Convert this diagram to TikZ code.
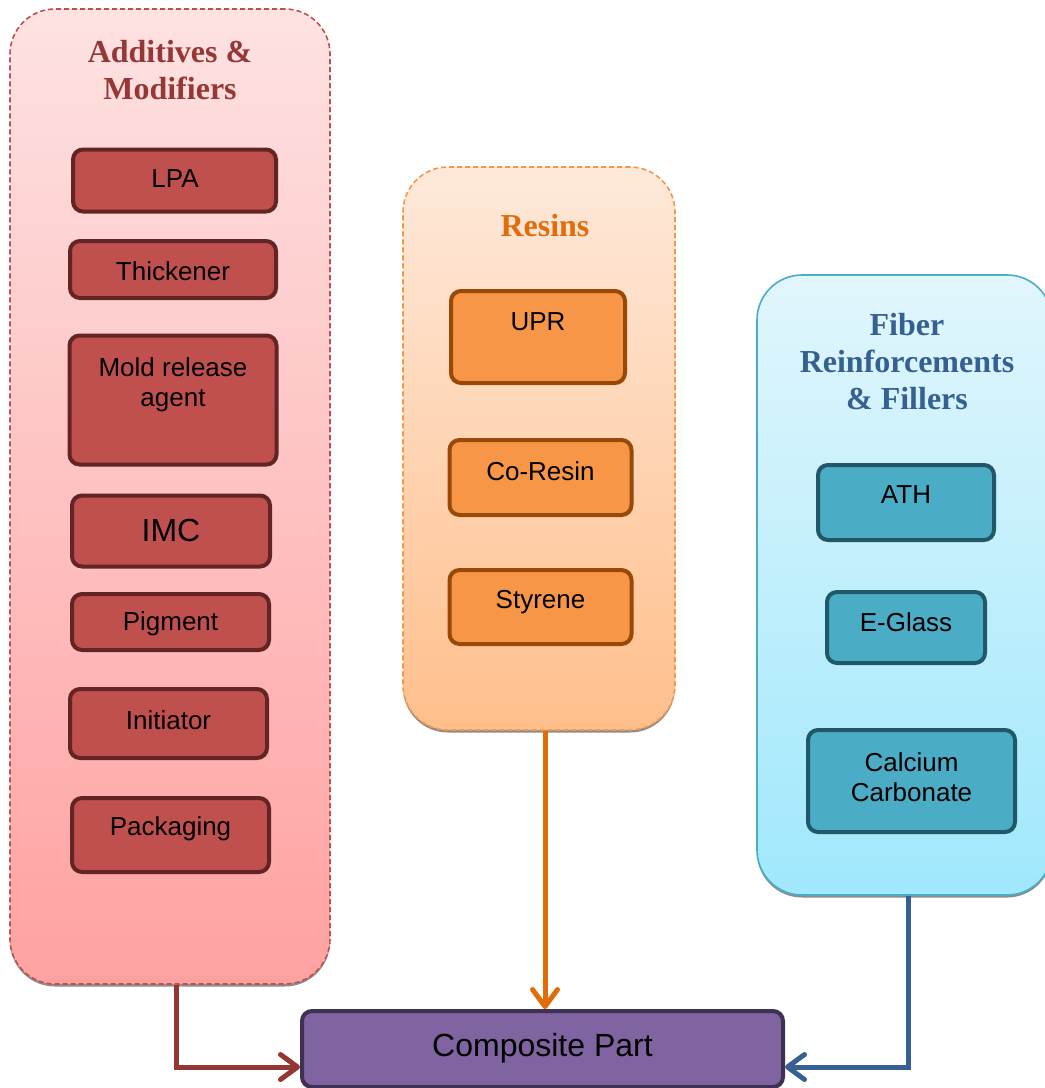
\documentclass[tikz,border=0pt]{standalone}
\usepackage{fontspec}
\setmainfont{Liberation Sans}
\newfontfamily\titlefont{Liberation Serif}
\usetikzlibrary{arrows.meta}

% palette
\definecolor{addFill}{HTML}{C0504D}
\definecolor{addEdge}{HTML}{632523}
\definecolor{addTitle}{HTML}{953735}
\definecolor{addTop}{HTML}{FEE2E2}
\definecolor{addBot}{HTML}{FFA1A1}
\definecolor{resFill}{HTML}{F79646}
\definecolor{resEdge}{HTML}{984807}
\definecolor{resTitle}{HTML}{E36C0A}
\definecolor{resTop}{HTML}{FEE9DA}
\definecolor{resBot}{HTML}{FFBF8C}
\definecolor{fibFill}{HTML}{4BACC6}
\definecolor{fibEdge}{HTML}{215868}
\definecolor{fibTitle}{HTML}{366092}
\definecolor{fibTop}{HTML}{E1F6FC}
\definecolor{fibBot}{HTML}{A0E8FC}
\definecolor{compFill}{HTML}{8064A2}
\definecolor{compEdge}{HTML}{3F3151}
\definecolor{lineRed}{HTML}{943634}
\definecolor{lineBlue}{HTML}{366092}

\tikzset{
  panel/.style={rectangle, rounded corners=45pt, line width=1.6pt, inner sep=0pt,
    preaction={fill=black!45, transform canvas={yshift=-2.5pt}}},
  dashedrim/.style={dash pattern=on 5pt off 3pt},
  item/.style={rectangle, rounded corners=10pt, line width=4pt, inner sep=0pt},
  addItem/.style={item, draw=addEdge, fill=addFill},
  resItem/.style={item, draw=resEdge, fill=resFill},
  fibItem/.style={item, draw=fibEdge, fill=fibFill},
  label/.style={inner sep=0pt, align=center, text=black,
    font=\fontsize{26}{30}\selectfont},
  biglabel/.style={label, font=\fontsize{32}{37}\selectfont},
  heading/.style={inner sep=0pt, align=center,
    font=\titlefont\bfseries\fontsize{32}{37}\selectfont},
  feed/.style={line width=5pt,
    -{Straight Barb[length=17pt, width=25pt, round]}},
}

\begin{document}
\begin{tikzpicture}[x=1pt, y=-1pt]
\useasboundingbox (0,0) rectangle (1045,1088);
\clip (0,0) rectangle (1045,1088);

% group panels
\node[panel, dashedrim, draw=addFill, top color=addTop, bottom color=addBot,
  minimum width=320pt, minimum height=975pt] (add) at (170,496.5) {};
\node[panel, dashedrim, draw=resFill, top color=resTop, bottom color=resBot,
  minimum width=272pt, minimum height=563pt] (res) at (539,448.5) {};
\node[panel, draw=fibFill, top color=fibTop, bottom color=fibBot,
  minimum width=295pt, minimum height=620pt] (fib) at (904.5,585) {};

% panel headings
\node[heading, text=addTitle] (addT) at (170,70.5) {Additives \&\\Modifiers};
\node[heading, text=resTitle] (resT) at (545,226) {Resins};
\node[heading, text=fibTitle] (fibT) at (907,362) {Fiber\\Reinforcements\\\& Fillers};

% additives & modifiers
\node[addItem, minimum width=203pt, minimum height=62pt] (lpa) at (174.5,180.5) {};
\node[label] (lpaT) at (175,179) {LPA};
\node[addItem, minimum width=206pt, minimum height=57pt] (thk) at (173,269.5) {};
\node[label] (thkT) at (173,271) {Thickener};
\node[addItem, minimum width=207pt, minimum height=129pt] (mold) at (173,400) {};
\node[label] (moldT) at (173,385) {Mold release\\agent};
\node[addItem, minimum width=198pt, minimum height=71pt] (imc) at (171,531) {};
\node[biglabel] (imcT) at (171,530) {IMC};
\node[addItem, minimum width=197pt, minimum height=56pt] (pig) at (170.5,622) {};
\node[label] (pigT) at (170.5,624) {Pigment};
\node[addItem, minimum width=197pt, minimum height=69pt] (ini) at (168.5,723.5) {};
\node[label] (iniT) at (168.5,720) {Initiator};
\node[addItem, minimum width=197pt, minimum height=74pt] (pack) at (170.5,835) {};
\node[label] (packT) at (170.5,829) {Packaging};

% resins
\node[resItem, minimum width=174pt, minimum height=92pt] (upr) at (538,337) {};
\node[label] (uprT) at (538,322) {UPR};
\node[resItem, minimum width=182pt, minimum height=75pt] (cor) at (540.5,477.5) {};
\node[label] (corT) at (540.5,471) {Co-Resin};
\node[resItem, minimum width=182pt, minimum height=74pt] (sty) at (540.5,607) {};
\node[label] (styT) at (540.5,602) {Styrene};

% fibers & fillers
\node[fibItem, minimum width=176pt, minimum height=75pt] (ath) at (906,502.5) {};
\node[label] (athT) at (906,495) {ATH};
\node[fibItem, minimum width=158pt, minimum height=71pt] (egl) at (906,627.5) {};
\node[label] (eglT) at (906,622) {E-Glass};
\node[fibItem, minimum width=207pt, minimum height=102pt] (cac) at (911.5,781) {};
\node[label] (cacT) at (911.5,777.5) {Calcium\\Carbonate};

% final product
\node[item, draw=compEdge, fill=compFill, minimum width=481pt, minimum height=76pt]
  (comp) at (542.5,1049) {};
\node[biglabel] (compT) at (542.5,1048) {Composite Part};

% feeds into the part
\draw[feed, draw=lineRed] (add.south -| 176,0) |- (comp.west |- 0,1067);
\draw[feed, draw=resTitle] (res.south -| 545,0) -- (comp.north -| 545,0);
\draw[feed, draw=lineBlue] (fib.south -| 908,0) |- (comp.east |- 0,1067);
\end{tikzpicture}
\end{document}
